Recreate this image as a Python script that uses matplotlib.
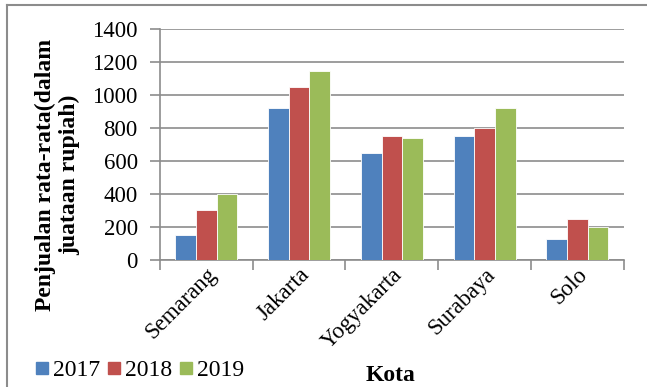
import numpy as np
import matplotlib.pyplot as plt
from matplotlib.lines import Line2D

kota = ['Semarang', 'Jakarta', 'Yogyakarta', 'Surabaya', 'Solo']
tahun = ['2017', '2018', '2019']
penjualan_2017 = [150, 920, 650, 750, 125]
penjualan_2018 = [300, 1050, 750, 800, 250]
penjualan_2019 = [400, 1150, 740, 920, 200]
warna = ['#4F81BD', '#C0504D', '#9BBB59']

plt.rcParams['font.family'] = ['Liberation Serif', 'DejaVu Serif']

fig = plt.figure(figsize=(6.47, 3.87), dpi=100)
ax = fig.add_axes([0.2473, 0.329, 0.7167, 0.595])

x = np.arange(len(kota))
w = 1 / 4.5
for i, (vals, c) in enumerate(zip([penjualan_2017, penjualan_2018, penjualan_2019], warna)):
    ax.bar(x + (i - 1) * w, vals, w, color=c, edgecolor='white', linewidth=0.6,
           label=tahun[i], zorder=3)

ax.set_xlim(-0.5, len(kota) - 0.5)
ax.set_ylim(0, 1400)
ax.set_yticks(np.arange(0, 1401, 200))
ax.yaxis.grid(True, color='#8c8c8c', linewidth=1.2, zorder=0)
ax.set_xticks(np.arange(-0.5, len(kota)), minor=False)
ax.set_xticklabels([])
ax.set_xticks(x, minor=True)
ax.set_xticklabels(kota, minor=True, rotation=45, ha='right', va='top',
                   rotation_mode='anchor', fontsize=16.5)
ax.tick_params(axis='x', which='minor', length=0, pad=3)
ax.tick_params(axis='x', which='major', length=7, width=1.2, color='#8c8c8c')
ax.tick_params(axis='y', length=7, width=1.2, color='#8c8c8c', labelsize=16.5, pad=9)
for s in ['top', 'right']:
    ax.spines[s].set_visible(False)
for s in ['left', 'bottom']:
    ax.spines[s].set_color('#8c8c8c')
    ax.spines[s].set_linewidth(1.2)

fig.text(0.089, 0.548, 'Penjualan rata-rata(dalam\njuataan rupiah)', rotation=90,
         ha='center', va='center', fontsize=17, fontweight='bold', linespacing=1.15)
fig.text(0.604, 0.03, 'Kota', ha='center', va='center', fontsize=17, fontweight='bold')

handles = [Line2D([], [], marker='s', linestyle='none', markersize=9, color=c) for c in warna]
fig.legend(handles, tahun, loc='lower left', bbox_to_anchor=(0.018, -0.04), ncol=3,
           frameon=False, fontsize=17, handletextpad=0.05, columnspacing=0.2,
           handlelength=0.8)

# garis tepi kiri dan atas
fig.add_artist(Line2D([0.011, 0.011], [0, 0.987], color='#8c8c8c', linewidth=1.5))
fig.add_artist(Line2D([0.011, 1.0], [0.987, 0.987], color='#8c8c8c', linewidth=1.5))

fig.savefig('out.png', dpi=100)
